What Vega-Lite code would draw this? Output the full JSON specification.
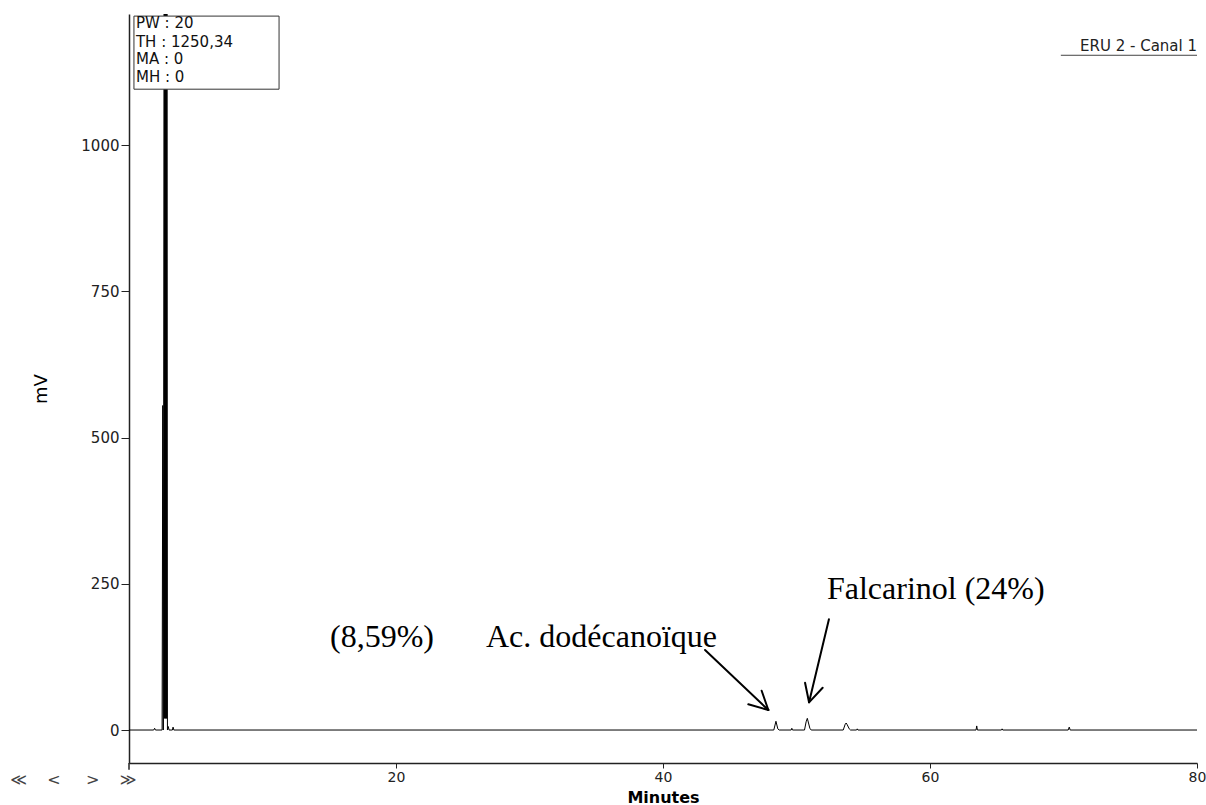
{
  "$schema": "https://vega.github.io/schema/vega-lite/v6.json",
  "width": 1068,
  "height": 749,
  "autosize": "none",
  "padding": {"left": 129, "top": 14, "right": 9, "bottom": 42},
  "background": "white",
  "config": {"view": {"stroke": null}, "axis": {"grid": false}},
  "datasets": {
    "signal": [
      {"t": 0, "mV": 0}, {"t": 1.85, "mV": 0}, {"t": 1.92, "mV": 3}, {"t": 1.98, "mV": 0},
      {"t": 2.48, "mV": 0}, {"t": 2.53, "mV": 555}, {"t": 2.57, "mV": 0},
      {"t": 2.64, "mV": 1400}, {"t": 2.665, "mV": 20}, {"t": 2.69, "mV": 1400}, {"t": 2.715, "mV": 20},
      {"t": 2.74, "mV": 1400}, {"t": 2.765, "mV": 20}, {"t": 2.79, "mV": 1400}, {"t": 2.815, "mV": 20}, {"t": 2.84, "mV": 1400}, {"t": 2.88, "mV": 0},
      {"t": 2.94, "mV": 6}, {"t": 3.0, "mV": 0},
      {"t": 3.25, "mV": 0}, {"t": 3.3, "mV": 5}, {"t": 3.36, "mV": 0},
      {"t": 48.3, "mV": 0}, {"t": 48.46, "mV": 15}, {"t": 48.6, "mV": 2}, {"t": 48.7, "mV": 0},
      {"t": 49.6, "mV": 0}, {"t": 49.65, "mV": 3}, {"t": 49.7, "mV": 0},
      {"t": 50.6, "mV": 0}, {"t": 50.72, "mV": 14}, {"t": 50.81, "mV": 20}, {"t": 50.9, "mV": 12}, {"t": 51.0, "mV": 3}, {"t": 51.1, "mV": 0},
      {"t": 53.5, "mV": 0}, {"t": 53.65, "mV": 10}, {"t": 53.72, "mV": 12}, {"t": 53.8, "mV": 9}, {"t": 53.95, "mV": 2}, {"t": 54.05, "mV": 0},
      {"t": 54.5, "mV": 0}, {"t": 54.55, "mV": 2}, {"t": 54.6, "mV": 0},
      {"t": 63.45, "mV": 0}, {"t": 63.5, "mV": 7}, {"t": 63.55, "mV": 0},
      {"t": 65.35, "mV": 0}, {"t": 65.4, "mV": 2}, {"t": 65.45, "mV": 0},
      {"t": 70.35, "mV": 0}, {"t": 70.43, "mV": 5}, {"t": 70.5, "mV": 0},
      {"t": 80, "mV": 0}
    ],
    "box": [{"t": 0.37, "t2": 11.24, "mV": 1096, "mV2": 1221}],
    "boxText": [
      {"t": 0.52, "mV": 1200, "label": "PW : 20"},
      {"t": 0.52, "mV": 1169, "label": "TH : 1250,34"},
      {"t": 0.52, "mV": 1139, "label": "MA : 0"},
      {"t": 0.52, "mV": 1109, "label": "MH : 0"}
    ],
    "channel": [{"t": 80, "mV": 1161, "label": "ERU 2 - Canal 1"}],
    "notes": [
      {"t": 15.06, "mV": 142, "label": "(8,59%)"},
      {"t": 26.74, "mV": 142, "label": "Ac. dodécanoïque"},
      {"t": 52.28, "mV": 224, "label": "Falcarinol (24%)"}
    ],
    "arrows": [
      {"t": 43.15, "mV": 136.8, "t2": 47.89, "mV2": 34.2},
      {"t": 47.89, "mV": 34.2, "t2": 47.39, "mV2": 67.2},
      {"t": 47.89, "mV": 34.2, "t2": 46.39, "mV2": 44.0},
      {"t": 52.43, "mV": 189.3, "t2": 50.94, "mV2": 47.4},
      {"t": 50.94, "mV": 47.4, "t2": 50.64, "mV2": 80.9},
      {"t": 50.94, "mV": 47.4, "t2": 51.96, "mV2": 72.3}
    ],
    "underline": [
      {"t": 69.8, "mV": 1154, "t2": 80, "mV2": 1154}
    ],
    "axisExt": [
      {"t": 0, "mV": -56.4, "t2": 0, "mV2": -68}
    ],
    "nav": [{"t": -8.9, "mV": -85.5, "label": "≪\u00a0\u00a0\u00a0\u00a0<\u00a0\u00a0\u00a0\u00a0\u00a0>\u00a0\u00a0\u00a0\u00a0≫"}]
  },
  "encoding": {
    "x": {
      "field": "t", "type": "quantitative", "title": "Minutes",
      "scale": {"domain": [0, 80], "nice": false, "zero": false},
      "axis": {
        "values": [20, 40, 60, 80], "labelFlush": false,
        "domainColor": "#222", "domainWidth": 1.5,
        "tickColor": "#222", "tickSize": 5, "tickWidth": 1,
        "labelFont": "DejaVu Sans", "labelFontSize": 14, "labelColor": "#222", "labelPadding": 2,
        "titleFont": "DejaVu Sans", "titleFontSize": 16, "titleFontWeight": "bold", "titleColor": "#000",
        "titleBaseline": "bottom", "titleY": 42
      }
    },
    "y": {
      "field": "mV", "type": "quantitative", "title": "mV",
      "scale": {"domain": [-56.4, 1224.6], "nice": false, "zero": false},
      "axis": {
        "values": [0, 250, 500, 750, 1000], "format": "d",
        "domainColor": "#222", "domainWidth": 1.5,
        "tickColor": "#222", "tickSize": 8, "tickWidth": 1,
        "labelFont": "DejaVu Sans", "labelFontSize": 15, "labelColor": "#222", "labelPadding": 2,
        "titleFont": "DejaVu Sans", "titleFontSize": 18, "titleFontWeight": "normal", "titleColor": "#000", "titlePadding": 30
      }
    }
  },
  "layer": [
    {
      "data": {"name": "signal"},
      "mark": {"type": "line", "color": "#000", "strokeWidth": 1, "clip": true, "interpolate": "linear"}
    },
    {
      "data": {"name": "box"},
      "mark": {"type": "rect", "fill": "white", "stroke": "#333", "strokeWidth": 1},
      "encoding": {"x2": {"field": "t2"}, "y2": {"field": "mV2"}}
    },
    {
      "data": {"name": "boxText"},
      "mark": {"type": "text", "align": "left", "baseline": "alphabetic", "font": "DejaVu Sans", "fontSize": 15, "color": "#111"},
      "encoding": {"text": {"field": "label"}}
    },
    {
      "data": {"name": "channel"},
      "mark": {"type": "text", "align": "right", "baseline": "alphabetic", "font": "DejaVu Sans", "fontSize": 15, "color": "#222"},
      "encoding": {"text": {"field": "label"}}
    },
    {
      "data": {"name": "underline"},
      "mark": {"type": "rule", "color": "#444", "strokeWidth": 1},
      "encoding": {"x2": {"field": "t2"}, "y2": {"field": "mV2"}}
    },
    {
      "data": {"name": "notes"},
      "mark": {"type": "text", "align": "left", "baseline": "alphabetic", "font": "Liberation Serif", "fontSize": 32, "color": "#000"},
      "encoding": {"text": {"field": "label"}}
    },
    {
      "data": {"name": "arrows"},
      "mark": {"type": "rule", "color": "#000", "strokeWidth": 2, "strokeCap": "round"},
      "encoding": {"x2": {"field": "t2"}, "y2": {"field": "mV2"}}
    },
    {
      "data": {"name": "axisExt"},
      "mark": {"type": "rule", "color": "#222", "strokeWidth": 1.5},
      "encoding": {"x2": {"field": "t2"}, "y2": {"field": "mV2"}}
    },
    {
      "data": {"name": "nav"},
      "mark": {"type": "text", "align": "left", "baseline": "middle", "font": "DejaVu Sans", "fontSize": 16, "color": "#444"},
      "encoding": {"text": {"field": "label"}}
    }
  ]
}
